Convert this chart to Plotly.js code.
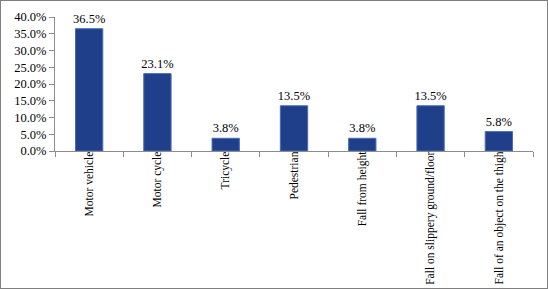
<!DOCTYPE html>
<html><head><meta charset="utf-8">
<script src="https://cdn.plot.ly/plotly-3.0.1.min.js"></script>
<style>
html,body{margin:0;padding:0;background:#fff;}
#chart{width:548px;height:289px;box-sizing:border-box;border:1px solid #7f7f7f;}
</style></head>
<body><div id="chart"></div>
<script>
const categories = ["Motor vehicle","Motor cycle","Tricycle","Pedestrian","Fall from height","Fall on slippery ground/floor","Fall of an object on the thigh"];
const values = [0.365, 0.231, 0.038, 0.135, 0.038, 0.135, 0.058];
const yTicks = [0,0.05,0.10,0.15,0.20,0.25,0.30,0.35,0.40];
const FONT = "'Liberation Serif'";

const trace = {
  type:'bar', x:categories, y:values,
  marker:{color:'#1f3f8a', line:{color:'#4a6bb5', width:1}},
  width:0.4,
  text: values.map(v=>(v*100).toFixed(1)+'%'),
  textposition:'outside', cliponaxis:false, constraintext:'none',
  textfont:{family:FONT, size:12.5, color:'#000'},
  hoverinfo:'none'
};
const layout = {
  width:546, height:287,
  margin:{l:54, r:14, t:16, b:137},
  paper_bgcolor:'#fff', plot_bgcolor:'#fff',
  showlegend:false,
  font:{family:FONT, size:12, color:'#000'},
  yaxis:{range:[0,0.4], tickvals:yTicks, tickformat:'.1%', showgrid:false, zeroline:false,
         showline:true, linecolor:'#8c8c8c', linewidth:1, ticks:'outside', ticklen:5, tickcolor:'#8c8c8c',
         tickfont:{family:FONT, size:12.5}},
  xaxis:{type:'category', tickson:'boundaries', showgrid:false, showline:true, linecolor:'#8c8c8c', linewidth:1,
         ticks:'outside', ticklen:5, tickcolor:'#8c8c8c', tickangle:-90, ticklabelstandoff:-5,
         tickfont:{family:FONT, size:11.5}}
};
Plotly.newPlot('chart',[trace],layout,{displayModeBar:false, staticPlot:true});
</script></body></html>
